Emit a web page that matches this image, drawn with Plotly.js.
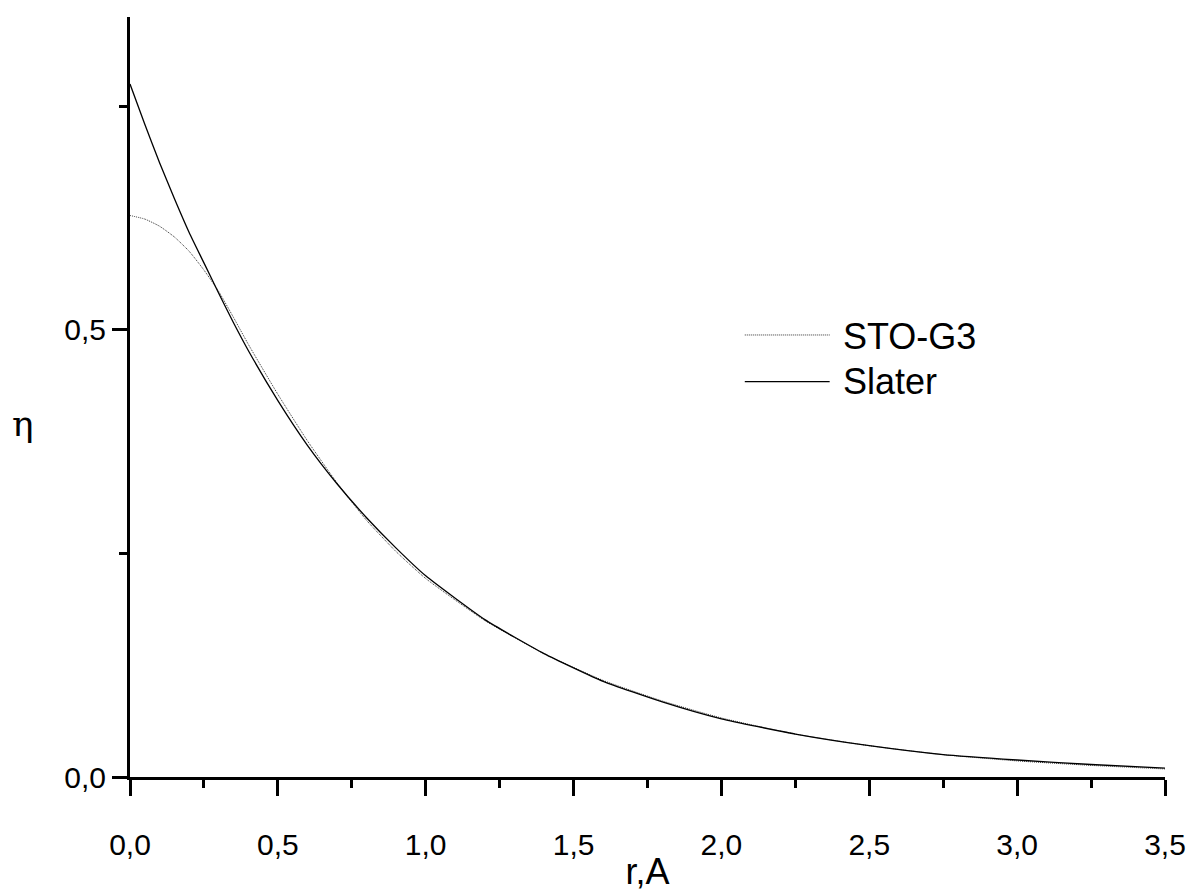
<!DOCTYPE html>
<html>
<head>
<meta charset="utf-8">
<script src="https://cdn.plot.ly/plotly-3.0.1.min.js"></script>
<style>html,body{margin:0;padding:0;background:#fff;}#chart{width:1189px;height:892px;}</style>
</head>
<body>
<div id="chart"></div>
<script>
// Radial distance r (Angstrom)
const rSlater = [0, 0.05, 0.1, 0.15, 0.2, 0.25, 0.3, 0.35, 0.4, 0.5, 0.6, 0.7, 0.8, 0.9, 1.0, 1.2, 1.4, 1.6, 1.8, 2.0, 2.25, 2.5, 2.75, 3.0, 3.25, 3.5];
const etaSlater = [0.775, 0.730, 0.687, 0.647, 0.609, 0.575, 0.541, 0.508, 0.477, 0.421, 0.371, 0.328, 0.290, 0.256, 0.225, 0.176, 0.138, 0.107, 0.084, 0.065, 0.048, 0.035, 0.025, 0.019, 0.014, 0.010];

const rSTO = [0, 0.05, 0.1, 0.15, 0.2, 0.25, 0.3, 0.35, 0.4, 0.5, 0.6, 0.7, 0.8, 0.9, 1.0, 1.2, 1.4, 1.6, 1.8, 2.0, 2.25, 2.5, 2.75, 3.0, 3.25, 3.5];
const etaSTO = [0.628, 0.624, 0.616, 0.604, 0.588, 0.567, 0.543, 0.514, 0.484, 0.428, 0.376, 0.329, 0.287, 0.252, 0.222, 0.175, 0.138, 0.108, 0.085, 0.066, 0.048, 0.035, 0.025, 0.018, 0.013, 0.009];

const seriesNames = ["STO-G3", "Slater"];
const xTitle = "r,A";
const yTitle = "η";

const FONT = "Liberation Sans, Arial, sans-serif";

const traces = [
  {x: rSTO, y: etaSTO, name: seriesNames[0], type: "scatter", mode: "lines",
   line: {color: "#333", width: 1, dash: "1px,1px", shape: "spline", smoothing: 0.5}},
  {x: rSlater, y: etaSlater, name: seriesNames[1], type: "scatter", mode: "lines",
   line: {color: "#000", width: 1.3, shape: "spline", smoothing: 0.5}}
];

const axisCommon = {
  showgrid: false, zeroline: false, showline: true, linecolor: "#000", linewidth: 3,
  ticks: "outside", tickcolor: "#000", tickwidth: 3, ticklen: 16,
  tickformat: ".1f", tickfont: {family: FONT, size: 30, color: "#000"},
  minor: {ticks: "outside", ticklen: 8, tickwidth: 3, tickcolor: "#000", dtick: 0.25, showgrid: false}
};

const layout = {
  width: 1189, height: 892,
  margin: {l: 130, r: 24, t: 17, b: 115},
  paper_bgcolor: "#fff", plot_bgcolor: "#fff",
  separators: ",.",
  showlegend: false,
  font: {family: FONT, color: "#000"},
  xaxis: Object.assign({}, axisCommon, {
    range: [0, 3.5], dtick: 0.5, tick0: 0, ticklabelstandoff: 23,
    title: {text: xTitle, font: {family: FONT, size: 36, color: "#000"}, standoff: 5}
  }),
  yaxis: Object.assign({}, axisCommon, {
    range: [0, 0.85], dtick: 0.5, tick0: 0, ticklen: 15
  }),
  annotations: [
    {xref: "paper", yref: "paper", x: -0.116, y: 0.465, xanchor: "left", yanchor: "middle",
     text: yTitle, showarrow: false, font: {family: "DejaVu Serif, serif", size: 36, color: "#000"}},
    {xref: "paper", yref: "paper", x: 0.687, y: 0.580, xanchor: "left", yanchor: "middle",
     text: seriesNames[0], showarrow: false, font: {family: FONT, size: 36, color: "#000"}},
    {xref: "paper", yref: "paper", x: 0.687, y: 0.520, xanchor: "left", yanchor: "middle",
     text: seriesNames[1], showarrow: false, font: {family: FONT, size: 36, color: "#000"}}
  ],
  shapes: [
    {type: "line", xref: "paper", yref: "paper", x0: 0.594, x1: 0.676, y0: 0.5816, y1: 0.5816,
     line: {color: "#333", width: 1, dash: "1px,1px"}},
    {type: "line", xref: "paper", yref: "paper", x0: 0.594, x1: 0.676, y0: 0.5201, y1: 0.5201,
     line: {color: "#000", width: 1.3}}
  ]
};

Plotly.newPlot("chart", traces, layout, {staticPlot: true, displayModeBar: false});
</script>
</body>
</html>
